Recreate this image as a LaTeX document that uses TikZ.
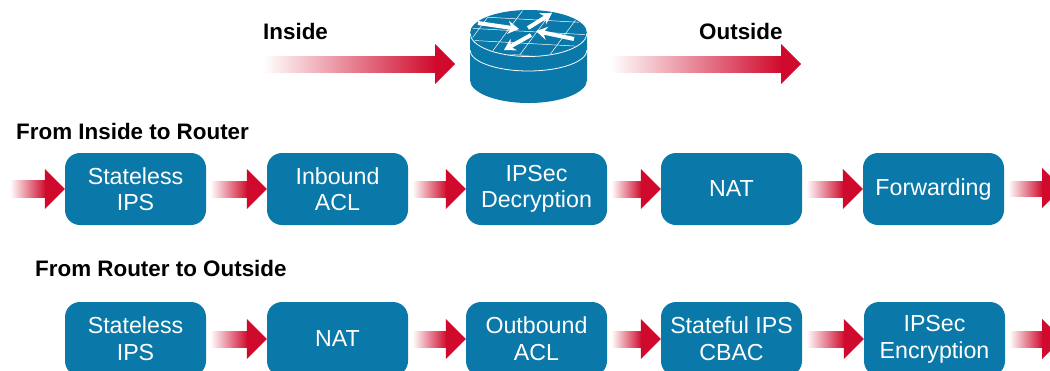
\documentclass[tikz,border=0pt]{standalone}
\usepackage{fontspec}
\setmainfont{Liberation Sans}
\usetikzlibrary{calc}
\usetikzlibrary{arrows.meta}
\definecolor{routerblue}{HTML}{0A78A8}
\definecolor{arrowred}{HTML}{CF0A2C}
\tikzstyle{stage} = [rectangle, rounded corners=15pt, fill=routerblue, text=white, minimum width=141pt, minimum height=72pt, align=center, inner sep=0pt, font=\fontsize{23.2}{26.5}\selectfont]
\tikzstyle{stagelow} = [stage, minimum height=74pt, font=\fontsize{23.2}{27}\selectfont]
\tikzstyle{heading} = [anchor=west, inner sep=0pt, font=\fontsize{22.4}{26}\selectfont\bfseries]
\newcommand{\flowarrow}[2]{
	\shade[left color=white,right color=arrowred] ($(#1)+(0,-8)$) rectangle ($(#2)+(-19,8)$);
	\fill[arrowred] ($(#2)+(-20,-20)$) -- (#2) -- ($(#2)+(-20,20)$) -- cycle;
}
\begin{document}
\begin{tikzpicture}[x=1pt,y=-1pt]
			\useasboundingbox (0,0) rectangle (1050,370);
			\clip (0,0) rectangle (1050,370);
			% top line
			\node[heading] (inside) at (263,31) {Inside};
			\node[heading] (outside) at (699,31) {Outside};
			\coordinate (insidestart) at (263,64);
			\coordinate (insideend) at (455,64);
			\coordinate (outsidestart) at (610,64);
			\coordinate (outsideend) at (801,64);
			\flowarrow{insidestart}{insideend}
			\flowarrow{outsidestart}{outsideend}
			% router
			\fill[routerblue] (470,33) -- (470,80) arc[start angle=180,end angle=0,x radius=58.5,y radius=23] -- (587,33) arc[start angle=0,end angle=-180,x radius=58.5,y radius=23];
			\draw[white,line width=0.8pt] (470,50) arc[start angle=180,end angle=0,x radius=58.5,y radius=21];
			\begin{scope}
				\clip (528.5,33) ellipse[x radius=57,y radius=22.5];
				\foreach \xa in {456,486,516,546,576}
					\draw[white,line width=0.5pt] (\xa,60) -- (\xa+40,6);
				\foreach \ya in {16,28,40,52}
					\draw[white,line width=0.5pt] (465,\ya) -- (592,\ya+7);
			\end{scope}
			\draw[white,line width=0.8pt] (470,33) arc[start angle=180,end angle=0,x radius=58.5,y radius=23.5];
			\foreach \tail/\tip in {{478,23}/{519,29},{574,39}/{536,31},{528,28}/{552,13},{531,35}/{504,50}}
				\draw[white,line width=4pt,-{Stealth[length=11pt,width=13pt]}] (\tail) -- (\tip);
			% from inside to router
			\node[heading] (rowone) at (16,131) {From Inside to Router};
			\node[stage] (istateless) at (135.5,189) {Stateless\\IPS};
			\node[stage] (iacl) at (337.5,189) {Inbound\\ACL};
			\node[stage] (decrypt) at (536.5,189) {IPSec\\Decryption};
			\node[stage] (inat) at (731.5,189) {NAT};
			\node[stage] (forward) at (933.5,189) {Forwarding};
			\coordinate (instart) at (10,188);
			\coordinate (inend) at (1062,188);
			\flowarrow{instart}{istateless.west}
			\flowarrow{$(istateless.east)+(4,0)$}{iacl.west}
			\flowarrow{$(iacl.east)+(4,0)$}{decrypt.west}
			\flowarrow{$(decrypt.east)+(4,0)$}{inat.west}
			\flowarrow{$(inat.east)+(4,0)$}{forward.west}
			\flowarrow{$(forward.east)+(4,0)$}{inend}
			% from router to outside
			\node[heading] (rowtwo) at (35,268) {From Router to Outside};
			\node[stagelow] (ostateless) at (135.5,339) {Stateless\\IPS};
			\node[stagelow] (onat) at (337.5,339) {NAT};
			\node[stagelow] (oacl) at (536.5,339) {Outbound\\ACL};
			\node[stagelow] (cbac) at (731.5,339) {Stateful IPS\\CBAC};
			\node[stagelow] (encrypt) at (934.5,339) {IPSec\\Encryption};
			\coordinate (outend) at (1062,339);
			\flowarrow{$(ostateless.east)+(4,0)$}{onat.west}
			\flowarrow{$(onat.east)+(4,0)$}{oacl.west}
			\flowarrow{$(oacl.east)+(4,0)$}{cbac.west}
			\flowarrow{$(cbac.east)+(4,0)$}{encrypt.west}
			\flowarrow{$(encrypt.east)+(4,0)$}{outend}
		\end{tikzpicture}
\end{document}
